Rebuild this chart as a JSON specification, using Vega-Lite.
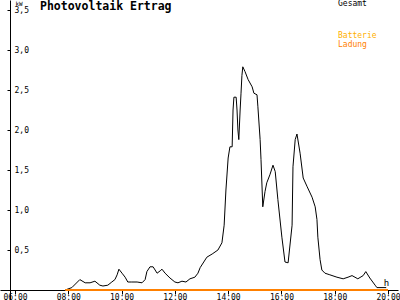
{
  "$schema": "https://vega.github.io/schema/vega-lite/v6.json",
  "width": 398,
  "height": 300,
  "autosize": {"type": "none"},
  "padding": {"left": 0, "top": 0, "right": 2, "bottom": 0},
  "background": "white",
  "title": {
    "text": "Photovoltaik Ertrag",
    "anchor": "start",
    "frame": "group",
    "font": "DejaVu Sans Mono",
    "fontSize": 11.5,
    "fontWeight": "bold",
    "color": "black",
    "baseline": "alphabetic",
    "offset": 0,
    "dx": 40,
    "dy": 21
  },
  "datasets": {
    "gesamt": [
      {"t": "07:53", "kw": 0.00}, {"t": "08:08", "kw": 0.03}, {"t": "08:26", "kw": 0.13}, {"t": "08:38", "kw": 0.09},
      {"t": "08:49", "kw": 0.09}, {"t": "09:00", "kw": 0.11}, {"t": "09:11", "kw": 0.06}, {"t": "09:18", "kw": 0.05},
      {"t": "09:29", "kw": 0.06}, {"t": "09:38", "kw": 0.10}, {"t": "09:45", "kw": 0.13}, {"t": "09:50", "kw": 0.19},
      {"t": "09:54", "kw": 0.26}, {"t": "10:01", "kw": 0.21}, {"t": "10:08", "kw": 0.16}, {"t": "10:14", "kw": 0.10},
      {"t": "10:23", "kw": 0.10}, {"t": "10:35", "kw": 0.10}, {"t": "10:46", "kw": 0.09}, {"t": "10:53", "kw": 0.13},
      {"t": "10:57", "kw": 0.23}, {"t": "11:04", "kw": 0.29}, {"t": "11:11", "kw": 0.29}, {"t": "11:20", "kw": 0.21},
      {"t": "11:27", "kw": 0.24}, {"t": "11:31", "kw": 0.26}, {"t": "11:38", "kw": 0.21}, {"t": "11:49", "kw": 0.15},
      {"t": "12:00", "kw": 0.10}, {"t": "12:07", "kw": 0.09}, {"t": "12:16", "kw": 0.11}, {"t": "12:25", "kw": 0.10},
      {"t": "12:34", "kw": 0.14}, {"t": "12:45", "kw": 0.16}, {"t": "12:52", "kw": 0.21}, {"t": "12:57", "kw": 0.28},
      {"t": "13:12", "kw": 0.41}, {"t": "13:24", "kw": 0.45}, {"t": "13:37", "kw": 0.50}, {"t": "13:46", "kw": 0.59},
      {"t": "13:51", "kw": 0.81}, {"t": "13:55", "kw": 1.25}, {"t": "14:00", "kw": 1.65}, {"t": "14:04", "kw": 1.79},
      {"t": "14:09", "kw": 1.79}, {"t": "14:11", "kw": 2.25}, {"t": "14:13", "kw": 2.41}, {"t": "14:18", "kw": 2.41},
      {"t": "14:20", "kw": 2.25}, {"t": "14:22", "kw": 2.00}, {"t": "14:24", "kw": 1.88}, {"t": "14:27", "kw": 2.25},
      {"t": "14:29", "kw": 2.46}, {"t": "14:31", "kw": 2.68}, {"t": "14:33", "kw": 2.79}, {"t": "14:38", "kw": 2.73},
      {"t": "14:45", "kw": 2.63}, {"t": "14:54", "kw": 2.54}, {"t": "14:58", "kw": 2.46}, {"t": "15:05", "kw": 2.44},
      {"t": "15:07", "kw": 2.29}, {"t": "15:12", "kw": 1.88}, {"t": "15:14", "kw": 1.63}, {"t": "15:18", "kw": 1.04},
      {"t": "15:23", "kw": 1.23}, {"t": "15:27", "kw": 1.34}, {"t": "15:34", "kw": 1.44}, {"t": "15:41", "kw": 1.56},
      {"t": "15:46", "kw": 1.48}, {"t": "15:52", "kw": 1.13}, {"t": "16:01", "kw": 0.66}, {"t": "16:08", "kw": 0.35},
      {"t": "16:15", "kw": 0.34}, {"t": "16:24", "kw": 0.81}, {"t": "16:26", "kw": 1.54}, {"t": "16:31", "kw": 1.88},
      {"t": "16:35", "kw": 1.95}, {"t": "16:42", "kw": 1.71}, {"t": "16:49", "kw": 1.40}, {"t": "16:58", "kw": 1.29},
      {"t": "17:09", "kw": 1.16}, {"t": "17:16", "kw": 1.04}, {"t": "17:20", "kw": 0.88}, {"t": "17:22", "kw": 0.66},
      {"t": "17:27", "kw": 0.38}, {"t": "17:31", "kw": 0.25}, {"t": "17:38", "kw": 0.21}, {"t": "17:49", "kw": 0.19},
      {"t": "18:05", "kw": 0.16}, {"t": "18:19", "kw": 0.14}, {"t": "18:30", "kw": 0.16}, {"t": "18:39", "kw": 0.18},
      {"t": "18:52", "kw": 0.14}, {"t": "19:04", "kw": 0.18}, {"t": "19:10", "kw": 0.23}, {"t": "19:19", "kw": 0.15},
      {"t": "19:31", "kw": 0.06}, {"t": "19:35", "kw": 0.03}, {"t": "19:56", "kw": 0.03}
    ],
    "ladung": [
      {"t": "07:53", "kw": 0}, {"t": "10:00", "kw": 0}, {"t": "12:00", "kw": 0}, {"t": "14:00", "kw": 0},
      {"t": "16:00", "kw": 0}, {"t": "18:00", "kw": 0}, {"t": "20:00", "kw": 0}
    ]
  },
  "encoding": {
    "x": {
      "field": "t",
      "type": "temporal",
      "scale": {
        "domain": [
          {"year": 1900, "month": 1, "date": 1, "hours": 5, "minutes": 26, "seconds": 13},
          {"year": 1900, "month": 1, "date": 1, "hours": 20, "minutes": 22, "seconds": 30}
        ]
      },
      "axis": {
        "orient": "bottom",
        "offset": -10,
        "values": [
          {"year": 1900, "month": 1, "date": 1, "hours": 6},
          {"year": 1900, "month": 1, "date": 1, "hours": 8},
          {"year": 1900, "month": 1, "date": 1, "hours": 10},
          {"year": 1900, "month": 1, "date": 1, "hours": 12},
          {"year": 1900, "month": 1, "date": 1, "hours": 14},
          {"year": 1900, "month": 1, "date": 1, "hours": 16},
          {"year": 1900, "month": 1, "date": 1, "hours": 18},
          {"year": 1900, "month": 1, "date": 1, "hours": 20}
        ],
        "format": "%H:%M",
        "grid": false,
        "tickSize": 4,
        "tickColor": "black",
        "domainColor": "black",
        "labelPadding": -1,
        "labelBaseline": "top",
        "labelFont": "DejaVu Sans Mono",
        "labelFontSize": 8,
        "labelColor": "black",
        "labelOverlap": false,
        "labelFlush": false,
        "title": "h",
        "titleX": 386,
        "titleY": -5,
        "titleAlign": "center",
        "titleBaseline": "alphabetic",
        "titleFont": "DejaVu Sans Mono",
        "titleFontSize": 9,
        "titleFontWeight": "normal",
        "titleColor": "black"
      }
    },
    "y": {
      "field": "kw",
      "type": "quantitative",
      "scale": {"domain": [-0.125, 3.625], "nice": false, "zero": false},
      "axis": {
        "orient": "left",
        "offset": -10,
        "values": [0.5, 1, 1.5, 2, 2.5, 3, 3.5],
        "labelExpr": "replace(format(datum.value, '.1f'), '.', ',')",
        "grid": false,
        "tickSize": 3,
        "tickColor": "black",
        "domainColor": "black",
        "labelAlign": "left",
        "labelBaseline": "middle",
        "labelPadding": -7,
        "labelFont": "DejaVu Sans Mono",
        "labelFontSize": 8,
        "labelColor": "black",
        "labelOverlap": false,
        "labelFlush": false,
        "title": "kW",
        "titleAngle": 0,
        "titleX": 5,
        "titleY": 0,
        "titleAlign": "left",
        "titleBaseline": "top",
        "titleFont": "DejaVu Sans Mono",
        "titleFontSize": 6,
        "titleFontWeight": "normal",
        "titleColor": "black"
      }
    }
  },
  "layer": [
    {
      "data": {"name": "gesamt", "format": {"parse": {"t": "date:'%H:%M'"}}},
      "mark": {"type": "line", "strokeWidth": 1, "clip": true},
      "encoding": {
        "color": {
          "datum": "Gesamt",
          "scale": {"domain": ["Gesamt"], "range": ["black"]},
          "legend": {
            "orient": "none",
            "legendX": 330,
            "legendY": 0,
            "title": null,
            "padding": 0,
            "symbolSize": 0,
            "symbolOpacity": 0,
            "symbolStrokeWidth": 0,
            "labelOffset": 0,
            "labelFont": "DejaVu Sans Mono",
            "labelFontSize": 8,
            "labelColor": "black"
          }
        }
      }
    },
    {
      "data": {"name": "ladung", "format": {"parse": {"t": "date:'%H:%M'"}}},
      "mark": {"type": "line", "strokeWidth": 2, "clip": true},
      "encoding": {
        "stroke": {
          "datum": "Ladung",
          "scale": {"domain": ["Batterie", "Ladung"], "range": ["#ffb000", "#ff8000"]},
          "legend": {
            "orient": "none",
            "legendX": 330,
            "legendY": 32,
            "title": null,
            "padding": 0,
            "rowPadding": 1,
            "symbolSize": 0,
            "symbolOpacity": 0,
            "symbolStrokeWidth": 0,
            "labelOffset": 0,
            "labelFont": "DejaVu Sans Mono",
            "labelFontSize": 8,
            "encode": {"labels": {"update": {"fill": {"scale": "stroke", "field": "value"}}}}
          }
        }
      }
    },
    {
      "mark": {"type": "point", "shape": "M-1,0.7L0,0L1,0.7", "filled": false, "stroke": "black", "strokeWidth": 1, "size": 20, "clip": false},
      "encoding": {
        "x": {"datum": {"year": 1900, "month": 1, "date": 1, "hours": 5, "minutes": 48, "seconds": 44}, "type": "temporal"},
        "y": {"datum": 3.6, "type": "quantitative"}
      }
    },
    {
      "mark": {"type": "point", "shape": "M-0.7,-1L0,0L-0.7,1", "filled": false, "stroke": "black", "strokeWidth": 1, "size": 20, "clip": false},
      "encoding": {
        "x": {"datum": {"year": 1900, "month": 1, "date": 1, "hours": 20, "minutes": 22, "seconds": 30}, "type": "temporal"},
        "y": {"datum": 0, "type": "quantitative"}
      }
    }
  ],
  "config": {
    "view": {"stroke": null},
    "font": "DejaVu Sans Mono"
  }
}
